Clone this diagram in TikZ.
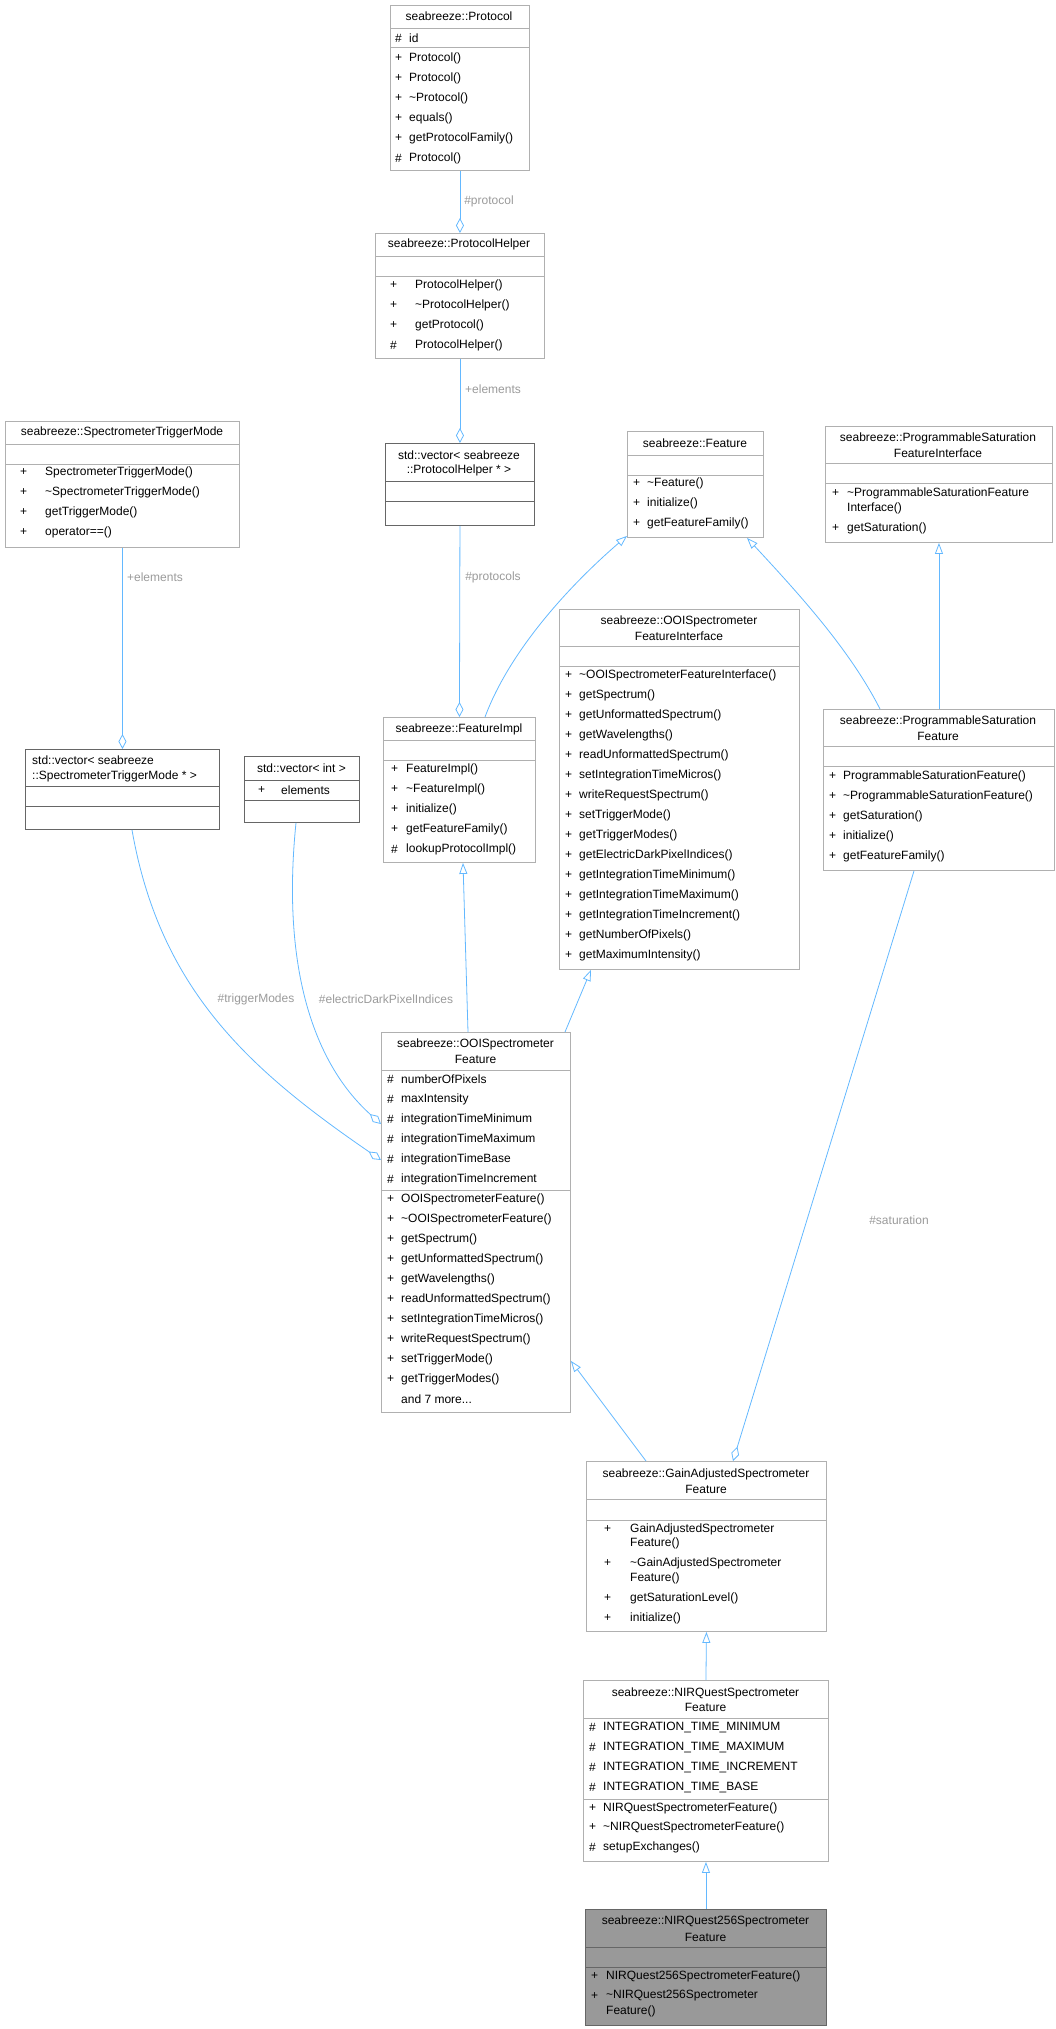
\documentclass[tikz,border=0pt]{standalone}
\usepackage{fontspec}
\setmainfont{Liberation Sans}
\usetikzlibrary{arrows.meta,calc}
\definecolor{edgeblue}{HTML}{63B8FF}
\definecolor{boxgray}{HTML}{B0B0B0}
\definecolor{lblgray}{HTML}{9A9A9A}
\definecolor{darkgray}{HTML}{666666}
\definecolor{fillgray}{HTML}{999999}
\begin{document}
\begin{tikzpicture}[x=1pt,y=-1pt,
  box/.style={draw=boxgray,line width=0.9pt,fill=white,inner sep=0pt,anchor=north west},
  dbox/.style={box,draw=darkgray},
  fbox/.style={box,draw=darkgray,fill=fillgray},
  sep/.style={boxgray,line width=0.9pt},
  dsep/.style={darkgray,line width=0.9pt},
  tl/.style={anchor=west,inner sep=0pt,font=\fontsize{12}{14}\selectfont},
  tc/.style={anchor=center,inner sep=0pt,font=\fontsize{12}{14}\selectfont},
  lbl/.style={anchor=center,inner sep=0pt,text=lblgray,font=\fontsize{12}{14}\selectfont},
  edge/.style={edgeblue,line width=0.8pt},
  inh/.style={edge,-{Triangle[open,length=11,width=8]}},
  agg/.style={edge,-{Diamond[open,length=15,width=8]}}]
\useasboundingbox (0,0) rectangle (1055,2029);

% Protocol
\node[box,minimum width=139,minimum height=165] (proto) at (390,5) {};
\draw[sep] (390,28)--(529,28) (390,47)--(529,47);
\node[tc] (protot) at (459,16.5) {seabreeze::Protocol};
\foreach \y/\s/\t in {38/\#/id,58/+/Protocol(),78/+/Protocol(),98/+/\textasciitilde Protocol(),118/+/equals(),138/+/getProtocolFamily(),158/\#/Protocol()}
 {\node[tl] at (395,\y) {\s}; \node[tl] at (409,\y) {\t};}

% ProtocolHelper
\node[box,minimum width=169,minimum height=125] (phelp) at (375,233) {};
\draw[sep] (375,256)--(544,256) (375,276)--(544,276);
\node[tc] at (459,244.5) {seabreeze::ProtocolHelper};
\foreach \y/\s/\t in {285/+/ProtocolHelper(),305/+/\textasciitilde ProtocolHelper(),325/+/getProtocol(),345/\#/ProtocolHelper()}
 {\node[tl] at (390,\y) {\s}; \node[tl] at (415,\y) {\t};}

% vector ProtocolHelper
\node[dbox,minimum width=149,minimum height=82] (vph) at (385,443) {};
\draw[dsep] (385,481)--(534,481) (385,501)--(534,501);
\node[tc] at (459,455) {std::vector< seabreeze};
\node[tc] at (459,470) {::ProtocolHelper * >};

% SpectrometerTriggerMode
\node[box,minimum width=234,minimum height=126] (stm) at (5,421) {};
\draw[sep] (5,444)--(239,444) (5,464)--(239,464);
\node[tc] at (122,432.5) {seabreeze::SpectrometerTriggerMode};
\foreach \y/\s/\t in {472/+/SpectrometerTriggerMode(),492/+/\textasciitilde SpectrometerTriggerMode(),512/+/getTriggerMode(),532/+/operator==()}
 {\node[tl] at (20,\y) {\s}; \node[tl] at (45,\y) {\t};}

% Feature
\node[box,minimum width=136,minimum height=106] (feat) at (627,431) {};
\draw[sep] (627,455)--(763,455) (627,475)--(763,475);
\node[tc] at (695,443) {seabreeze::Feature};
\foreach \y/\s/\t in {483/+/\textasciitilde Feature(),503/+/initialize(),523/+/getFeatureFamily()}
 {\node[tl] at (633,\y) {\s}; \node[tl] at (647,\y) {\t};}

% ProgrammableSaturationFeatureInterface
\node[box,minimum width=227,minimum height=116] (psfi) at (825,426) {};
\draw[sep] (825,463)--(1052,463) (825,483)--(1052,483);
\node[tc] at (938,438) {seabreeze::ProgrammableSaturation};
\node[tc] at (938,453) {FeatureInterface};
\node[tl] at (832,493) {+}; \node[tl] at (847,493) {\textasciitilde ProgrammableSaturationFeature};
\node[tl] at (847,508) {Interface()};
\node[tl] at (832,528) {+}; \node[tl] at (847,528) {getSaturation()};

% OOISpectrometerFeatureInterface
\node[box,minimum width=240,minimum height=360] (ooifi) at (559,609) {};
\draw[sep] (559,646)--(799,646) (559,666)--(799,666);
\node[tc] at (679,621) {seabreeze::OOISpectrometer};
\node[tc] at (679,636) {FeatureInterface};
\foreach \t [count=\i from 0] in {\textasciitilde OOISpectrometerFeatureInterface(),getSpectrum(),getUnformattedSpectrum(),getWavelengths(),readUnformattedSpectrum(),setIntegrationTimeMicros(),writeRequestSpectrum(),setTriggerMode(),getTriggerModes(),getElectricDarkPixelIndices(),getIntegrationTimeMinimum(),getIntegrationTimeMaximum(),getIntegrationTimeIncrement(),getNumberOfPixels(),getMaximumIntensity()}
 {\node[tl] at (565,675+20*\i) {+}; \node[tl] at (579,675+20*\i) {\t};}

% FeatureImpl
\node[box,minimum width=152,minimum height=145] (fimpl) at (383,717) {};
\draw[sep] (383,740)--(535,740) (383,760)--(535,760);
\node[tc] at (459,729) {seabreeze::FeatureImpl};
\foreach \y/\s/\t in {769/+/FeatureImpl(),789/+/\textasciitilde FeatureImpl(),809/+/initialize(),829/+/getFeatureFamily(),849/\#/lookupProtocolImpl()}
 {\node[tl] at (391,\y) {\s}; \node[tl] at (406,\y) {\t};}

% vector SpectrometerTriggerMode
\node[dbox,minimum width=194,minimum height=80] (vstm) at (25,749) {};
\draw[dsep] (25,786)--(219,786) (25,806)--(219,806);
\node[tl] at (32,760) {std::vector< seabreeze};
\node[tl] at (32,776) {::SpectrometerTriggerMode * >};

% vector int
\node[dbox,minimum width=115,minimum height=66] (vint) at (244,756) {};
\draw[dsep] (244,780)--(359,780) (244,800)--(359,800);
\node[tc] at (301.5,768) {std::vector< int >};
\node[tl] at (258,790) {+}; \node[tl] at (281,790) {elements};

% ProgrammableSaturationFeature
\node[box,minimum width=231,minimum height=161] (psf) at (823,709) {};
\draw[sep] (823,746)--(1054,746) (823,766)--(1054,766);
\node[tc] at (938,721) {seabreeze::ProgrammableSaturation};
\node[tc] at (938,736) {Feature};
\foreach \t [count=\i from 0] in {ProgrammableSaturationFeature(),\textasciitilde ProgrammableSaturationFeature(),getSaturation(),initialize(),getFeatureFamily()}
 {\node[tl] at (829,776+20*\i) {+}; \node[tl] at (843,776+20*\i) {\t};}

% OOISpectrometerFeature
\node[box,minimum width=189,minimum height=380] (ooif) at (381,1032) {};
\draw[sep] (381,1070)--(570,1070) (381,1190)--(570,1190);
\node[tc] at (475.5,1044) {seabreeze::OOISpectrometer};
\node[tc] at (475.5,1059) {Feature};
\foreach \t [count=\i from 0] in {numberOfPixels,maxIntensity,integrationTimeMinimum,integrationTimeMaximum,integrationTimeBase,integrationTimeIncrement}
 {\node[tl] at (387,1079+20*\i) {\#}; \node[tl] at (401,1079+20*\i) {\t};}
\foreach \t [count=\i from 0] in {OOISpectrometerFeature(),\textasciitilde OOISpectrometerFeature(),getSpectrum(),getUnformattedSpectrum(),getWavelengths(),readUnformattedSpectrum(),setIntegrationTimeMicros(),writeRequestSpectrum(),setTriggerMode(),getTriggerModes()}
 {\node[tl] at (387,1199+20*\i) {+}; \node[tl] at (401,1199+20*\i) {\t};}
\node[tl] at (401,1399) {and 7 more...};

% GainAdjustedSpectrometerFeature
\node[box,minimum width=240,minimum height=170] (ga) at (586,1461) {};
\draw[sep] (586,1499)--(826,1499) (586,1520)--(826,1520);
\node[tc] at (706,1474) {seabreeze::GainAdjustedSpectrometer};
\node[tc] at (706,1489) {Feature};
\node[tl] at (604,1529) {+}; \node[tl] at (630,1529) {GainAdjustedSpectrometer};
\node[tl] at (630,1543) {Feature()};
\node[tl] at (604,1563) {+}; \node[tl] at (630,1563) {\textasciitilde GainAdjustedSpectrometer};
\node[tl] at (630,1578) {Feature()};
\node[tl] at (604,1598) {+}; \node[tl] at (630,1598) {getSaturationLevel()};
\node[tl] at (604,1618) {+}; \node[tl] at (630,1618) {initialize()};

% NIRQuestSpectrometerFeature
\node[box,minimum width=245,minimum height=181] (nirq) at (583,1680) {};
\draw[sep] (583,1718)--(828,1718) (583,1799)--(828,1799);
\node[tc] at (705.5,1693) {seabreeze::NIRQuestSpectrometer};
\node[tc] at (705.5,1707) {Feature};
\foreach \t [count=\i from 0] in {INTEGRATION\_TIME\_MINIMUM,INTEGRATION\_TIME\_MAXIMUM,INTEGRATION\_TIME\_INCREMENT,INTEGRATION\_TIME\_BASE}
 {\node[tl] at (589,1727+20*\i) {\#}; \node[tl] at (603,1727+20*\i) {\t};}
\node[tl] at (589,1808) {+}; \node[tl] at (603,1808) {NIRQuestSpectrometerFeature()};
\node[tl] at (589,1827) {+}; \node[tl] at (603,1827) {\textasciitilde NIRQuestSpectrometerFeature()};
\node[tl] at (589,1847) {\#}; \node[tl] at (603,1847) {setupExchanges()};

% NIRQuest256SpectrometerFeature
\node[fbox,minimum width=241,minimum height=116] (nirq256) at (585,1909) {};
\draw[dsep] (585,1947)--(826,1947) (585,1967)--(826,1967);
\node[tc] at (705.5,1921) {seabreeze::NIRQuest256Spectrometer};
\node[tc] at (705.5,1937) {Feature};
\node[tl] at (591,1976) {+}; \node[tl] at (606,1976) {NIRQuest256SpectrometerFeature()};
\node[tl] at (591,1996) {+}; \node[tl] at (606,1996) {\textasciitilde NIRQuest256Spectrometer};
\node[tl] at (606,2011) {Feature()};

% connectors
\draw[agg] (proto.south) -- (phelp.north);
\node[lbl] at (489,201) {\#protocol};
\draw[agg] (phelp.south) -- (vph.north);
\node[lbl] at (493,389) {+elements};
\draw[agg] (vph.south) -- (fimpl.north);
\node[lbl] at (493,577) {\#protocols};
\draw[agg] (stm.south) -- (vstm.north-|stm.south);
\node[lbl] at (155,577) {+elements};

\draw[inh] ($(fimpl.north west)+(102,0)$) .. controls (510,650) and (570,585) .. ($(feat.south west)+(0,-2)$);
\draw[inh] ($(psf.north west)+(57,0)$) .. controls (850,650) and (800,595) .. ($(feat.south west)+(120,0)$);
\draw[inh] (psf.north-|psfi.south) -- (psfi.south);
\draw[inh] ($(ooif.north west)+(87,0)$) -- ($(fimpl.south west)+(80,0)$);
\draw[inh] ($(ooif.north west)+(184,0)$) -- ($(ooifi.south west)+(32,0)$);
\draw[inh] ($(ga.north west)+(60,0)$) -- ($(ooif.south east)+(0,-52)$);
\draw[agg] ($(psf.south west)+(91,0)$) -- ($(ga.north west)+(147,0)$);
\node[lbl] at (899,1220) {\#saturation};
\draw[inh] (nirq.north) -- (ga.south);
\draw[inh] (nirq256.north) -- (nirq.south);

\draw[agg] ($(vstm.south west)+(107,0)$) .. controls (160,990) and (250,1070) .. ($(ooif.north west)+(0,128)$);
\node[lbl] at (256,999) {\#triggerModes};
\draw[agg] ($(vint.south west)+(52,0)$) .. controls (282,960) and (310,1060) .. ($(ooif.north west)+(0,92)$);
\node[lbl] at (386,999) {\#electricDarkPixelIndices};
\end{tikzpicture}
\end{document}
